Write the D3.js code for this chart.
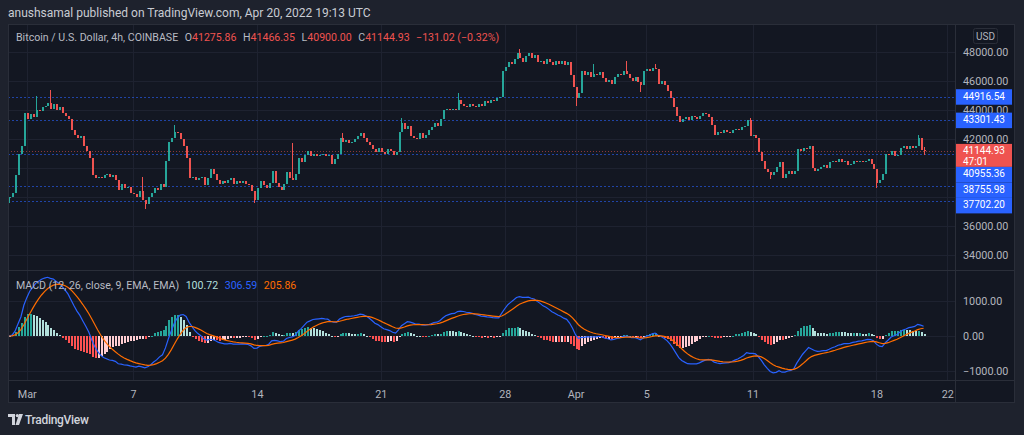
<!DOCTYPE html>
<html>
<head>
<meta charset="utf-8">
<script src="https://cdn.jsdelivr.net/npm/d3@7"></script>
<style>
  body { margin: 0; background: #1e222d; overflow: hidden; }
  svg { display: block; font-family: Roboto, "Noto Sans", sans-serif; }
</style>
</head>
<body>
<svg id="chart" width="1024" height="435"></svg>
<script>
// BTC/USD 4h closes, Feb 28 00:00 UTC -> Apr 20 16:00 UTC (6 per day)
const closes = [
  38000, 38300, 39500, 41000, 41500, 43800, // Feb 28
  43400, 43700, 43500, 44000, 43900, 44200, // Mar 1
  44300, 44500, 44100, 44400, 44000, 44200,
  43800, 43600, 43400, 42600, 42300, 42100,
  42200, 41500, 41200, 40700, 39500, 39300,
  39400, 39300, 39500, 39600, 39400, 39500, // Mar 5
  39200, 38500, 38900, 38600, 38700, 38300,
  38200, 38000, 38400, 37800, 37500, 38000, // Mar 7
  38300, 38600, 38500, 38900, 38700, 40500,
  41800, 42100, 42500, 42400, 42000, 41500,
  40700, 39300, 39400, 39200, 39300, 39400, // Mar 10
  38800, 39300, 39900, 39600, 39200, 38900,
  39100, 39000, 39200, 39300, 38900, 39100,
  39000, 39100, 38900, 38800, 38400, 37800,
  38600, 39100, 38800, 38600, 39000, 39800, // Mar 14
  39000, 38700, 38500, 38900, 39700, 39300,
  39200, 39600, 40700, 40400, 40900, 41200,
  40800, 41000, 40800, 40900, 41000, 40800,
  40900, 40300, 40600, 41000, 42100, 41800,
  41900, 41700, 41800, 42000, 42200, 42400,
  42100, 41800, 41600, 41300, 41100, 41400, // Mar 20
  41100, 41000, 41300, 41200, 40900, 41100,
  42500, 43100, 42700, 42900, 42200, 42100,
  42000, 42400, 42100, 42300, 42600, 42800,
  43100, 42900, 43400, 44000, 44100, 44000,
  44100, 44000, 44700, 44400, 44300, 44200, // Mar 25
  44400, 44300, 44200, 44400, 44300, 44600,
  44500, 44700, 44600, 44800, 44900, 46700,
  47000, 47300, 47200, 47500, 47900, 47600, // Mar 28
  47300, 47700, 47900, 47600, 47800, 47300,
  47400, 47200, 47500, 47300, 47100, 47400,
  47200, 47400, 47100, 47300, 46400, 45600,
  44800, 45200, 46700, 46400, 46600, 46300, // Apr 1
  46500, 46400, 46600, 46200, 45900, 46100,
  45800, 46300, 46500, 46400, 46700, 46500,
  46200, 46000, 46300, 45900, 45700, 46700,
  46800, 46700, 46900, 46800, 45800, 46000, // Apr 5
  45700, 45300, 44800, 44200, 43600, 43200,
  43400, 43500, 43300, 43600, 43500, 43400,
  43600, 43800, 43700, 43500, 43000, 42300,
  42500, 42400, 42600, 42500, 42400, 42600,
  42700, 42600, 42800, 42900, 43300, 42200, // Apr 10
  42300, 42100, 41100, 40500, 39900, 39700,
  39500, 39700, 40100, 40400, 39300, 39600,
  39800, 39600, 39800, 41300, 41200, 41400,
  41300, 41500, 40000, 39800, 39900, 40100,
  40200, 40000, 40400, 40500, 40400, 40600, // Apr 15
  40400, 40500, 40200, 40300, 40500, 40400,
  40500, 40400, 40500, 40600, 40300, 39900,
  39000, 39200, 39600, 41000, 40900, 41200, // Apr 18
  40800, 40900, 41400, 41500, 41300, 41500,
  41400, 41500, 42100, 41275.86, 41144.93    // Apr 20
];
const firstOpen = 37900;
// notable wicks: [candle index, price]
const highWicks = [[9, 45000], [14, 45400], [45, 39400], [56, 43000], [96, 41700], [113, 42400],
  [133, 43450], [152, 45150], [173, 48200], [198, 47200], [209, 47400], [219, 47200],
  [251, 43450], [308, 42300], [310, 41466.35]];
const lowWicks = [[0, 37600], [46, 37200], [83, 37600], [192, 44300], [214, 45250],
  [258, 39250], [294, 38600], [310, 40900]];

const priceTicks = [34000, 36000, 38000, 40000, 42000, 44000, 46000, 48000];
const macdTicks = [-1000, 0, 1000];
const timeTicks = [
  [Date.UTC(2022, 2, 1), 'Mar'], [Date.UTC(2022, 2, 7), '7'], [Date.UTC(2022, 2, 14), '14'],
  [Date.UTC(2022, 2, 21), '21'], [Date.UTC(2022, 2, 28), '28'], [Date.UTC(2022, 3, 1), 'Apr'],
  [Date.UTC(2022, 3, 5), '5'], [Date.UTC(2022, 3, 11), '11'], [Date.UTC(2022, 3, 18), '18'],
  [Date.UTC(2022, 3, 22), '22']
];
const blueLevels = [44916.54, 43301.43, 40955.36, 38755.98, 37702.20];
const lastPrice = 41144.93;
const macdLegend = ['100.72', '306.59', '205.86'];

const UP = '#26a69a', DOWN = '#ef5350';
const GRID = '#1e2230', BORDER = '#2a2e39', TEXT = '#b2b5be', LEG = '#b8bbc3';

const svg = d3.select('#chart');
const L = 8, R = 1015, PR = 955, TOP = 24, PB = 270, MT = 271, MB = 380, BOT = 403;

const t0 = Date.UTC(2022, 1, 28);
const H4 = 4 * 3600 * 1000;
const x = d3.scaleUtc().domain([t0, Date.UTC(2022, 3, 22)]).range([9.1, 947.2]);
const y = d3.scaleLinear().domain([34000, 48000]).range([255, 52]);
const ym = d3.scaleLinear().domain([-1000, 1000]).range([371, 301]);

// candles
const highMap = new Map(highWicks), lowMap = new Map(lowWicks);
const candles = closes.map((c, i) => {
  const o = i === 0 ? firstOpen : closes[i - 1];
  return {
    t: t0 + i * H4, o, c,
    h: Math.max(o, c, highMap.get(i) || 0),
    l: Math.min(o, c, lowMap.get(i) || Infinity)
  };
});

// MACD (12, 26, close, 9)
function ema(vals, n) {
  const k = 2 / (n + 1);
  let prev = vals[0];
  return vals.map((v, i) => (prev = i === 0 ? v : v * k + prev * (1 - k)));
}
const e12 = ema(closes, 12), e26 = ema(closes, 26);
const macd = closes.map((c, i) => e12[i] - e26[i]);
const signal = ema(macd, 9);
const hist = macd.map((m, i) => m - signal[i]);

// background
svg.append('rect').attr('x', L).attr('y', TOP).attr('width', R - L).attr('height', BOT - TOP).attr('fill', '#131722');

// grid
const grid = svg.append('g').attr('shape-rendering', 'crispEdges').attr('stroke', GRID);
grid.selectAll('.v').data(timeTicks).join('line')
  .attr('x1', d => Math.round(x(d[0])) + 0.5).attr('x2', d => Math.round(x(d[0])) + 0.5)
  .attr('y1', TOP).attr('y2', MB);
grid.selectAll('.hp').data(priceTicks).join('line')
  .attr('x1', L).attr('x2', PR).attr('y1', d => Math.round(y(d)) + 0.5).attr('y2', d => Math.round(y(d)) + 0.5);
grid.selectAll('.hm').data(macdTicks).join('line')
  .attr('x1', L).attr('x2', PR).attr('y1', d => Math.round(ym(d)) + 0.5).attr('y2', d => Math.round(ym(d)) + 0.5);

// clip
const defs = svg.append('defs');
defs.append('clipPath').attr('id', 'cp').append('rect').attr('x', L).attr('y', TOP).attr('width', PR - L).attr('height', PB - TOP);
defs.append('clipPath').attr('id', 'cm').append('rect').attr('x', L).attr('y', MT).attr('width', PR - L).attr('height', MB - MT);

// drawn levels
const lv = svg.append('g').attr('clip-path', 'url(#cp)').attr('shape-rendering', 'crispEdges');
lv.selectAll('line.b').data(blueLevels).join('line')
  .attr('x1', L).attr('x2', PR).attr('y1', d => Math.round(y(d)) + 0.5).attr('y2', d => Math.round(y(d)) + 0.5)
  .attr('stroke', '#2962ff').attr('stroke-opacity', 0.6).attr('stroke-dasharray', '2,2');
lv.append('line').attr('x1', L).attr('x2', PR)
  .attr('y1', Math.round(y(lastPrice)) + 0.5).attr('y2', Math.round(y(lastPrice)) + 0.5)
  .attr('stroke', DOWN).attr('stroke-opacity', 0.55).attr('stroke-dasharray', '1,2');

// candles
const cg = svg.append('g').attr('clip-path', 'url(#cp)').attr('shape-rendering', 'crispEdges');
cg.selectAll('line').data(candles).join('line')
  .attr('x1', d => Math.round(x(d.t)) + 0.5).attr('x2', d => Math.round(x(d.t)) + 0.5)
  .attr('y1', d => y(d.h)).attr('y2', d => y(d.l))
  .attr('stroke', d => d.c >= d.o ? UP : DOWN);
cg.selectAll('rect').data(candles).join('rect')
  .attr('x', d => Math.round(x(d.t)) - 0.5).attr('width', 2)
  .attr('y', d => y(Math.max(d.o, d.c)))
  .attr('height', d => Math.max(1, Math.abs(y(d.o) - y(d.c))))
  .attr('fill', d => d.c >= d.o ? UP : DOWN);

// MACD pane
const mg = svg.append('g').attr('clip-path', 'url(#cm)');
mg.append('g').attr('shape-rendering', 'crispEdges').selectAll('rect').data(hist).join('rect')
  .attr('x', (d, i) => Math.round(x(t0 + i * H4)) - 0.5).attr('width', 2)
  .attr('y', d => Math.min(ym(d), ym(0)))
  .attr('height', d => Math.max(1, Math.abs(ym(d) - ym(0))))
  .attr('fill', (d, i) => {
    const rising = i > 0 && hist[i - 1] < d;
    return d >= 0 ? (rising ? '#26a69a' : '#b2dfdb') : (rising ? '#ffcdd2' : '#ff5252');
  });
const line = d3.line().x((d, i) => x(t0 + i * H4)).y(d => ym(d));
mg.append('path').datum(macd).attr('d', line).attr('fill', 'none').attr('stroke', '#2962ff').attr('stroke-width', 1.2);
mg.append('path').datum(signal).attr('d', line).attr('fill', 'none').attr('stroke', '#ff6d00').attr('stroke-width', 1.2);

// borders
const bd = svg.append('g').attr('stroke', BORDER).attr('shape-rendering', 'crispEdges').attr('fill', 'none');
bd.append('rect').attr('x', L + 0.5).attr('y', TOP + 0.5).attr('width', R - L - 1).attr('height', BOT - TOP - 1);
bd.append('line').attr('x1', PR + 0.5).attr('x2', PR + 0.5).attr('y1', TOP).attr('y2', BOT);
bd.append('line').attr('x1', L).attr('x2', R).attr('y1', PB + 0.5).attr('y2', PB + 0.5);
bd.append('line').attr('x1', L).attr('x2', R).attr('y1', MB + 0.5).attr('y2', MB + 0.5);

// price labels (stacked to avoid overlap), laid out first so covered ticks can be skipped
const labels = [
  ...blueLevels.map(v => ({ v, color: '#2962ff', h: 15.5, lines: [d3.format('.2f')(v)] })),
  { v: lastPrice, color: DOWN, h: 23, lines: [d3.format('.2f')(lastPrice), '47:01'] }
].sort((a, b) => b.v - a.v || (a.color === DOWN ? -1 : 1));
let lastBottom = -Infinity;
labels.forEach(lb => {
  let top = y(lb.v) - 7.5;
  if (top < lastBottom) top = lastBottom;
  lb.top = top; lastBottom = top + lb.h;
});
const covered = v => labels.some(lb => y(v) > lb.top - 1 && y(v) < lb.top + lb.h + 1);

// axes
const pa = svg.append('g').attr('transform', `translate(${PR},0)`)
  .call(d3.axisRight(y).tickValues(priceTicks.filter(v => !covered(v))).tickFormat(d3.format('.2f')).tickSize(0).tickPadding(8));
const ma = svg.append('g').attr('transform', `translate(${PR},0)`)
  .call(d3.axisRight(ym).tickValues(macdTicks).tickFormat(d => d3.format('.2f')(d).replace('-', '\u2212')).tickSize(0).tickPadding(8));
const ta = svg.append('g').attr('transform', `translate(0,${MB})`)
  .call(d3.axisBottom(x).tickValues(timeTicks.map(d => d[0])).tickFormat((d, i) => timeTicks[i][1]).tickSize(0).tickPadding(8));
[pa, ma, ta].forEach(a => {
  a.select('.domain').remove();
  a.selectAll('text').attr('fill', TEXT).attr('font-size', 10.8).attr('font-family', 'Roboto, sans-serif');
});
ta.selectAll('text').attr('dy', '0.9em');

// USD box
svg.append('rect').attr('x', 973.5).attr('y', 28.5).attr('width', 24).attr('height', 15).attr('rx', 2)
  .attr('fill', '#131722').attr('stroke', BORDER);
svg.append('text').attr('x', 985.5).attr('y', 39.5).attr('text-anchor', 'middle')
  .attr('font-size', 10).attr('fill', TEXT).text('USD');

const lg = svg.append('g');
lg.selectAll('rect').data(labels).join('rect')
  .attr('x', PR + 1).attr('width', 56).attr('y', d => d.top).attr('height', d => d.h)
  .attr('fill', d => d.color);
labels.forEach(lb => lb.lines.forEach((s, k) => {
  lg.append('text').attr('x', 963).attr('y', lb.top + 10.6 + k * 10.2)
    .attr('font-size', 10).attr('fill', '#ffffff').text(s);
}));

// header
svg.append('text').attr('x', 8).attr('y', 17).attr('font-size', 12).attr('fill', '#c9ccd3')
  .text('anushsamal published on TradingView.com, Apr 20, 2022 19:13 UTC');

// legend rows: pieces placed one after another
function row(yPos, pieces) {
  let cx = 16;
  pieces.forEach(p => {
    const t = svg.append('text').attr('x', cx).attr('y', yPos).attr('font-size', 10.6);
    p.parts.forEach(([s, c]) => t.append('tspan').attr('fill', c).text(s));
    cx += t.node().getComputedTextLength() + 6.5;
  });
}
row(41, [
  { parts: [['Bitcoin / U.S. Dollar, 4h, COINBASE', LEG]] },
  { parts: [['O', LEG], ['41275.86', DOWN]] },
  { parts: [['H', LEG], ['41466.35', DOWN]] },
  { parts: [['L', LEG], ['40900.00', DOWN]] },
  { parts: [['C', LEG], ['41144.93', DOWN]] },
  { parts: [['\u2212131.02 (\u22120.32%)', DOWN]] }
]);
row(289, [
  { parts: [['MACD (12, 26, close, 9, EMA, EMA)', LEG]] },
  { parts: [[macdLegend[0], '#b2dfdb']] },
  { parts: [[macdLegend[1], '#2962ff']] },
  { parts: [[macdLegend[2], '#ff6d00']] }
]);

// footer logo
const logo = svg.append('g').attr('fill', '#d1d4dc');
logo.append('path').attr('d', 'M8 414 H15 V425 H12 V417 H8 Z');
logo.append('circle').attr('cx', 17.3).attr('cy', 415.6).attr('r', 1.6);
logo.append('path').attr('d', 'M19 414 H23 L19 425 H15.5 Z');
logo.append('text').attr('x', 25).attr('y', 424).attr('font-size', 12).attr('font-weight', 500)
  .attr('fill', '#d1d4dc').attr('letter-spacing', '-0.3').text('TradingView');
</script>
</body>
</html>
